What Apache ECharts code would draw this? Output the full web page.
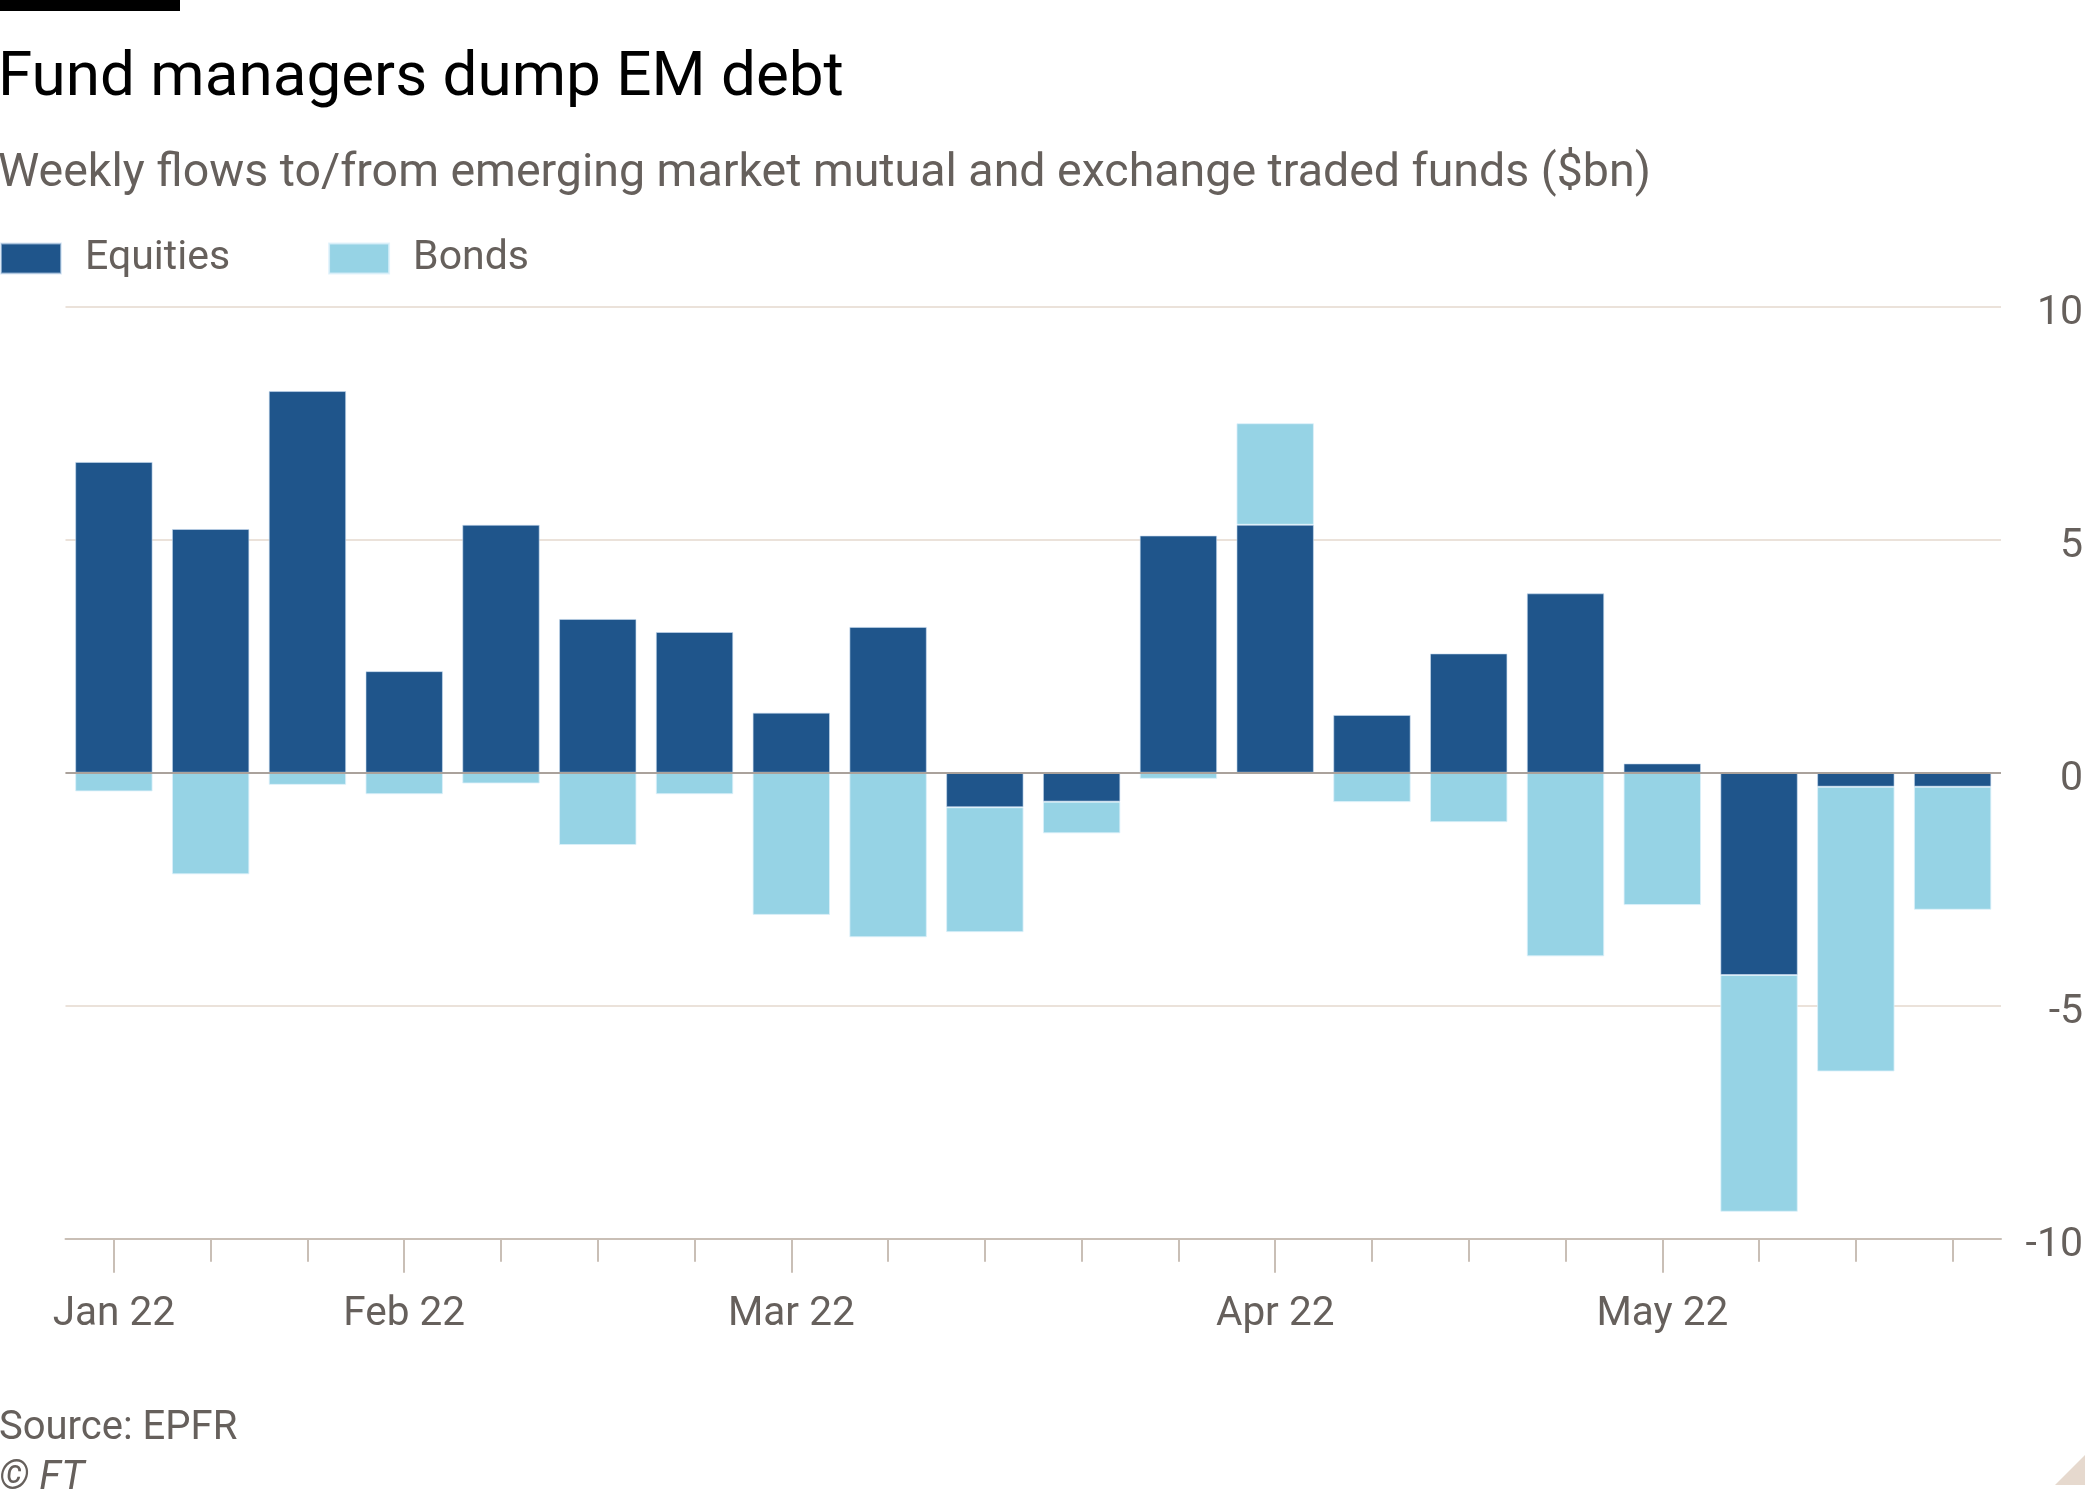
<!DOCTYPE html>
<html>
<head>
<meta charset="utf-8">
<script src="https://cdn.jsdelivr.net/npm/echarts@6/dist/echarts.min.js"></script>
<style>
html,body{margin:0;padding:0;background:#fff;}
#chart{width:2100px;height:1500px;}
</style>
</head>
<body>
<div id="chart"></div>
<script>
// Weekly categories (Jan–May 2022)
const weeks = ['W1','W2','W3','W4','W5','W6','W7','W8','W9','W10','W11','W12','W13','W14','W15','W16','W17','W18','W19','W20'];
const monthLabels = ['Jan 22','','','Feb 22','','','','Mar 22','','','','','Apr 22','','','','May 22','','',''];
const equities = [6.67, 5.23, 8.19, 2.18, 5.32, 3.30, 3.02, 1.29, 3.13, -0.74, -0.62, 5.09, 5.32, 1.24, 2.56, 3.85, 0.20, -4.34, -0.30, -0.30];
const bonds =    [-0.40, -2.18, -0.26, -0.46, -0.23, -1.55, -0.46, -3.05, -3.53, -2.68, -0.68, -0.13, 2.18, -0.63, -1.06, -3.94, -2.84, -5.08, -6.11, -2.64];
const yTicks = [-10, -5, 0, 5, 10];

const FONT = 'Roboto, "Open Sans", sans-serif';
const GREY = '#66605c';
const GRIDC = '#ebe2da';
const chart = echarts.init(document.getElementById('chart'), null, {renderer: 'canvas'});
chart.setOption({
  animation: false,
  backgroundColor: '#ffffff',
  title: [
    {text: 'Fund managers dump EM debt', left: -2, top: 48, padding: 0,
     textStyle: {fontFamily: FONT, fontSize: 62, fontWeight: 'normal', color: '#000000'}},
    {text: 'Weekly flows to/from emerging market mutual and exchange traded funds ($bn)', left: -2, top: 151, padding: 0,
     textStyle: {fontFamily: FONT, fontSize: 46.5, fontWeight: 'normal', color: GREY}},
    {text: 'Source: EPFR', left: -1, top: 1409, padding: 0,
     textStyle: {fontFamily: FONT, fontSize: 40, fontWeight: 'normal', color: GREY}},
    {text: '© FT', left: -1, top: 1459, padding: 0,
     textStyle: {fontFamily: FONT, fontSize: 40, fontWeight: 'normal', fontStyle: 'italic', color: GREY}}
  ],
  legend: {
    left: 0, top: 238, padding: 0, itemWidth: 60, itemHeight: 30, itemGap: 98, icon: 'rect',
    selectedMode: false,
    textStyle: {fontFamily: FONT, fontSize: 41, color: GREY, padding: [0, 0, 0, 19]},
    data: ['Equities', 'Bonds']
  },
  graphic: [
    {type: 'rect', shape: {x: 0, y: 0, width: 180, height: 11}, style: {fill: '#000000'}},
    {type: 'polygon', shape: {points: [[2085, 1455], [2085, 1485], [2055, 1485]]}, style: {fill: '#e6d9ce'}}
  ],
  grid: {left: 65.5, right: 99, top: 306.7, bottom: 261.2, containLabel: false},
  xAxis: [
    {
      type: 'category', data: weeks, boundaryGap: true,
      axisLine: {show: true, onZero: false, lineStyle: {color: '#c9bfb6', width: 2}},
      axisTick: {show: true, alignWithLabel: true, length: 23, lineStyle: {color: '#c9bfb6', width: 2}},
      axisLabel: {show: false},
      splitLine: {show: false}
    },
    {
      type: 'category', data: weeks, boundaryGap: true, position: 'bottom',
      axisLine: {show: false, onZero: false},
      axisTick: {show: true, alignWithLabel: true, length: 34,
        interval: function (i) { return monthLabels[i] !== ''; },
        lineStyle: {color: '#c9bfb6', width: 2}},
      axisLabel: {show: true, margin: 56,
        interval: function (i) { return monthLabels[i] !== ''; },
        formatter: function (v, i) { return monthLabels[i]; },
        fontFamily: FONT, fontSize: 40.5, color: GREY},
      splitLine: {show: false}
    }
  ],
  yAxis: {
    type: 'value', position: 'right', min: -10, max: 10, interval: 5,
    axisLine: {show: false}, axisTick: {show: false},
    axisLabel: {align: 'right', verticalAlign: 'top', lineHeight: 14, margin: 82,
      fontFamily: FONT, fontSize: 41, color: GREY,
      formatter: function (v) { return yTicks.indexOf(v) >= 0 ? String(v) : ''; }},
    splitLine: {show: true, lineStyle: {color: GRIDC, width: 2}}
  },
  series: [
    {
      name: 'Equities', type: 'bar', stack: 'flows', data: equities, xAxisIndex: 0,
      barCategoryGap: '20%',
      itemStyle: {color: '#1f558b', borderColor: 'rgba(200,220,240,0.6)', borderWidth: 1},
      markLine: {silent: true, symbol: 'none', label: {show: false},
        lineStyle: {color: '#aaa29c', width: 2, type: 'solid'}, data: [{yAxis: 0}]},
      z: 3
    },
    {
      name: 'Bonds', type: 'bar', stack: 'flows', data: bonds, xAxisIndex: 0,
      barCategoryGap: '20%',
      itemStyle: {color: '#96d3e5', borderColor: 'rgba(220,240,250,0.8)', borderWidth: 1},
      z: 3
    }
  ]
});
</script>
</body>
</html>
